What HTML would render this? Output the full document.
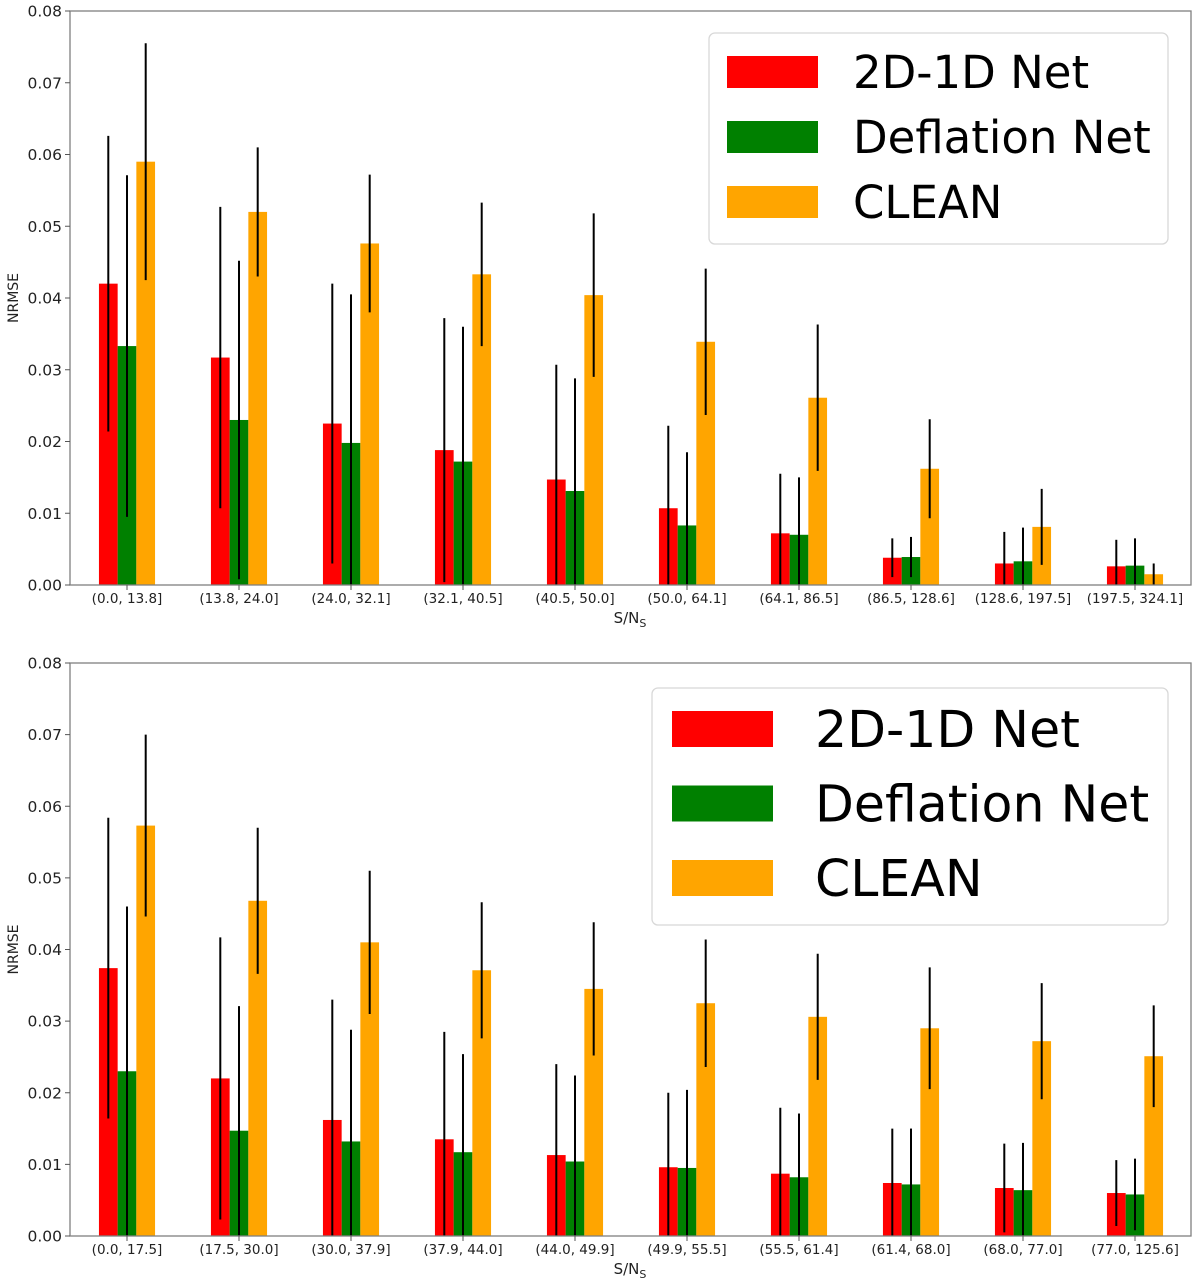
<!DOCTYPE html>
<html><head><meta charset="utf-8"><style>
body{margin:0;background:#fff;}
svg{display:block;font-family:"DejaVu Sans","Liberation Sans",sans-serif;}
</style></head><body>
<svg id="svg" width="1200" height="1284"></svg>
<script>
const catsTop=["(0.0, 13.8]","(13.8, 24.0]","(24.0, 32.1]","(32.1, 40.5]","(40.5, 50.0]","(50.0, 64.1]","(64.1, 86.5]","(86.5, 128.6]","(128.6, 197.5]","(197.5, 324.1]"];
const redTop=[0.042,0.0317,0.0225,0.0188,0.0147,0.0107,0.0072,0.0038,0.003,0.0026];
const redErrTop=[0.0206,0.021,0.0195,0.0184,0.016,0.0115,0.0083,0.0027,0.0044,0.0037];
const greenTop=[0.0333,0.023,0.0198,0.0172,0.0131,0.0083,0.007,0.0039,0.0033,0.0027];
const greenErrTop=[0.0238,0.0222,0.0207,0.0188,0.0157,0.0102,0.008,0.0028,0.0047,0.0038];
const orangeTop=[0.059,0.052,0.0476,0.0433,0.0404,0.0339,0.0261,0.0162,0.0081,0.0015];
const orangeErrTop=[0.0165,0.009,0.0096,0.01,0.0114,0.0102,0.0102,0.0069,0.0053,0.0015];
const catsBot=["(0.0, 17.5]","(17.5, 30.0]","(30.0, 37.9]","(37.9, 44.0]","(44.0, 49.9]","(49.9, 55.5]","(55.5, 61.4]","(61.4, 68.0]","(68.0, 77.0]","(77.0, 125.6]"];
const redBot=[0.0374,0.022,0.0162,0.0135,0.0113,0.0096,0.0087,0.0074,0.0067,0.006];
const redErrBot=[0.021,0.0197,0.0168,0.015,0.0127,0.0104,0.0092,0.0076,0.0062,0.0046];
const greenBot=[0.023,0.0147,0.0132,0.0117,0.0104,0.0095,0.0082,0.0072,0.0064,0.0058];
const greenErrBot=[0.023,0.0174,0.0156,0.0137,0.012,0.0109,0.0089,0.0078,0.0066,0.005];
const orangeBot=[0.0573,0.0468,0.041,0.0371,0.0345,0.0325,0.0306,0.029,0.0272,0.0251];
const orangeErrBot=[0.0127,0.0102,0.01,0.0095,0.0093,0.0089,0.0088,0.0085,0.0081,0.0071];
const yTicks=["0.00","0.01","0.02","0.03","0.04","0.05","0.06","0.07","0.08"];
const legendLabels=["2D-1D Net","Deflation Net","CLEAN"];
const colors=["#ff0000","#008000","#ffa500"];

const NS="http://www.w3.org/2000/svg";
const svg=document.getElementById('svg');
function mk(tag,attrs,parent,name,inter){const e=document.createElementNS(NS,tag);for(const k in attrs)e.setAttribute(k,attrs[k]);


parent.appendChild(e);return e;}

function chart(prefix,top,bottom,cats,series,errs,leg){
  const L=70,R=1191,ymax=0.08;
  const g=mk('g',{},svg,prefix+'-chart',false);
  const y=v=>bottom-(v/ymax)*(bottom-top);
  const xc=i=>127+112*i;
  const bw=18.7;
  for(let s=0;s<3;s++){
    for(let i=0;i<cats.length;i++){
      const x0=xc(i)+(s-1)*bw-bw/2;
      mk('rect',{x:x0,y:y(series[s][i]),width:bw,height:bottom-y(series[s][i]),fill:colors[s]},g,prefix+'-bar-'+s+'-'+i,false);
    }
  }
  for(let s=0;s<3;s++){
    for(let i=0;i<cats.length;i++){
      const cx=xc(i)+(s-1)*bw;
      const lo=Math.max(0,series[s][i]-errs[s][i]);
      mk('line',{x1:cx,x2:cx,y1:y(series[s][i]+errs[s][i]),y2:y(lo),stroke:'#000','stroke-width':2},g,prefix+'-errorbar-'+s+'-'+i,false);
    }
  }
  mk('rect',{x:L,y:top,width:R-L,height:bottom-top,fill:'none',stroke:'#808080','stroke-width':1.3},g,prefix+'-axes-frame',false);
  yTicks.forEach((t,k)=>{
    const yy=y(parseFloat(t));
    mk('line',{x1:L-5,x2:L,y1:yy,y2:yy,stroke:'#555'},g,prefix+'-ytick',false);
    const tx=mk('text',{x:L-8,y:yy+5.5,'text-anchor':'end','font-size':15.5,fill:'#222'},g,prefix+'-ytick-label',false);tx.textContent=t;
  });
  cats.forEach((c,i)=>{
    mk('line',{x1:xc(i),x2:xc(i),y1:bottom,y2:bottom+5,stroke:'#555'},g,prefix+'-xtick',false);
    const tx=mk('text',{x:xc(i),y:bottom+18,'text-anchor':'middle','font-size':13.5,fill:'#222'},g,prefix+'-xtick-label',false);tx.textContent=c;
  });
  const yl=mk('text',{x:18,y:(top+bottom)/2,'text-anchor':'middle','font-size':14,fill:'#222',transform:`rotate(-90 18 ${(top+bottom)/2})`},g,prefix+'-y-axis-title',false);yl.textContent='NRMSE';
  const xl=mk('text',{x:630,y:bottom+38,'text-anchor':'middle','font-size':15,fill:'#222'},g,prefix+'-x-axis-title',false);
  xl.innerHTML='S/N<tspan font-size="11" dy="4">S</tspan>';
  const lg=mk('g',{},g,prefix+'-legend',false);
  mk('rect',{x:leg.x,y:leg.y,width:leg.w,height:leg.h,rx:6,fill:'#fff',stroke:'#d8d8d8','stroke-width':1.3},lg,prefix+'-legend-box',false);
  legendLabels.forEach((t,k)=>{
    const py=leg.py+k*leg.step;
    mk('rect',{x:leg.px,y:py,width:leg.pw,height:leg.ph,fill:colors[k]},lg,prefix+'-legend-swatch-'+k,false);
    const tx=mk('text',{x:leg.tx,y:py+leg.ph/2+leg.fs*0.36,'font-size':leg.fs,fill:'#000'},lg,prefix+'-legend-entry-'+k,false);tx.textContent=t;
  });
}
chart('top',11,585,catsTop,[redTop,greenTop,orangeTop],[redErrTop,greenErrTop,orangeErrTop],
  {x:709,y:33,w:459,h:211,px:727,pw:91,ph:32,py:56,step:65,tx:853,fs:45});
chart('bottom',663,1236,catsBot,[redBot,greenBot,orangeBot],[redErrBot,greenErrBot,orangeErrBot],
  {x:652,y:688,w:516,h:237,px:672,pw:101,ph:36,py:711,step:74.5,tx:815,fs:50.5});
</script>
</body></html>
